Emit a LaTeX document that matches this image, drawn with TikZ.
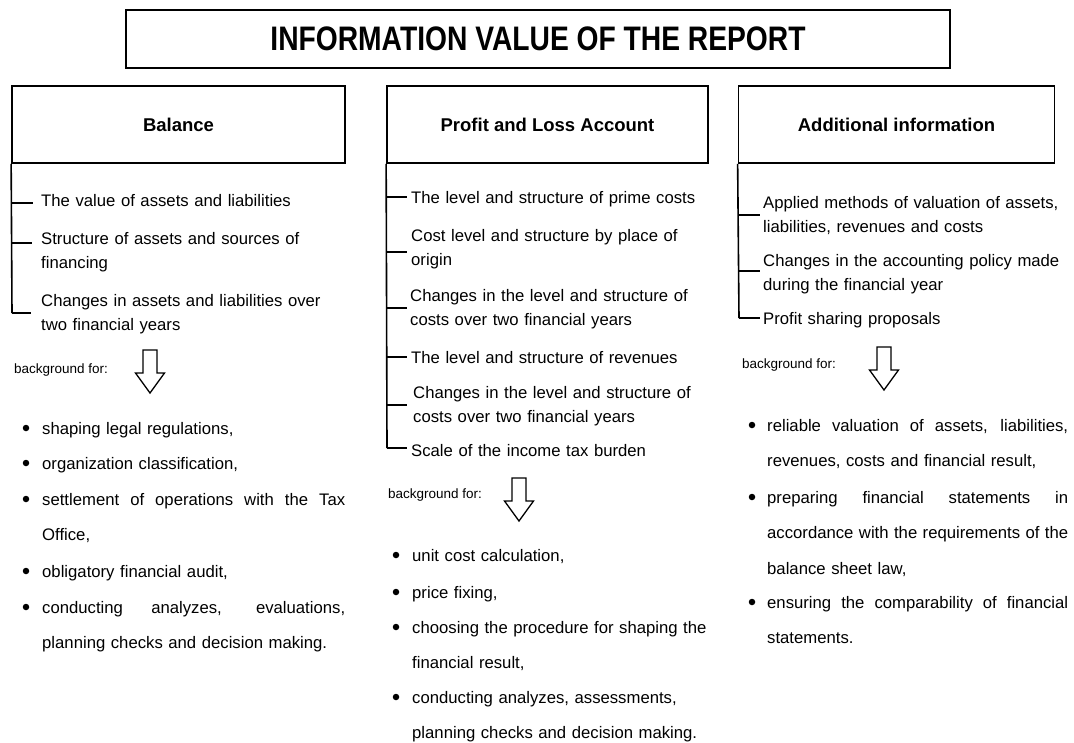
\documentclass[tikz,border=0pt]{standalone}
\usepackage{fontspec}
\setmainfont{Liberation Sans}
\newcommand{\jline}[2]{\leavevmode\hbox to #1{\spaceskip=0.28em plus 1fil minus 0.05em\relax #2}}
\begin{document}
\begin{tikzpicture}[x=1pt,y=-1pt,
  hbox/.style={draw, line width=1.7pt, inner sep=0pt, font=\fontsize{18.5}{22}\selectfont\bfseries},
  ln/.style={line width=1.6pt},
  itm/.style={anchor=base west, inner sep=0pt, text width=330pt, align=left, font=\fontsize{16.7}{24.5}\selectfont},
  bul/.style={anchor=base west, inner sep=0pt, align=left, font=\fontsize{16.7}{35.5}\selectfont},
  bg/.style={anchor=base west, inner sep=0pt, font=\fontsize{13.5}{16}\selectfont},
  dot/.style={circle, fill, inner sep=0pt, minimum size=6.5pt},
  harrow/.style={draw, line width=1.3pt, fill=white},
  downarrow/.pic={\draw[harrow] (-7,0) -- (-7,23) -- (-14.5,23) -- (0,43) -- (14.5,23) -- (7,23) -- (7,0) -- cycle;}
]
\useasboundingbox (0,0) rectangle (1074,742);

% title
\node[hbox, minimum width=824pt, minimum height=58pt] (title) at (538,39)
  {\fontsize{34}{40}\selectfont\bfseries\scalebox{0.83}[1]{INFORMATION VALUE OF THE REPORT}};

% headers
\node[hbox, minimum width=333pt, minimum height=77pt] (bal) at (178.5,124.5) {Balance};
\node[hbox, minimum width=321pt, minimum height=77pt] (pl) at (547.5,124.5) {Profit and Loss Account};
\node[hbox, minimum width=316pt, minimum height=77pt] (add) at (896.5,124.5) {Additional information};

% ---------- Balance column ----------
\node[itm] (b1) at (41,206) {The value of assets and liabilities};
\node[itm] (b2) at (41,244) {Structure of assets and sources of\\financing};
\node[itm] (b3) at (41,306) {Changes in assets and liabilities over\\two financial years};
\coordinate (bk1) at (12,203);
\coordinate (bk2) at (12,243);
\coordinate (bk3) at (12,313);
\draw[ln] (bal.south west) -- (bk3);
\draw[ln, shorten >=8pt] (bk1) -- (bk1 -| b1.west);
\draw[ln, shorten >=9pt] (bk2) -- (bk2 -| b2.west);
\draw[ln, shorten >=10pt] (bk3) -- (bk3 -| b3.west);

\node[bg] (bgL) at (14,373) {background for:};
\pic at (150,350) {downarrow};

\node[bul, text width=303pt] (lb1) at (42,434) {shaping legal regulations,};
\node[bul, text width=303pt] (lb2) at (42,469) {organization classification,};
\node[bul, text width=303pt] (lb3) at (42,505) {\jline{303pt}{settlement of operations with the Tax}\\Office,};
\node[bul, text width=303pt] (lb4) at (42,577) {obligatory financial audit,};
\node[bul, text width=303pt] (lb5) at (42,613) {\jline{303pt}{conducting analyzes, evaluations,}\\planning checks and decision making.};
\foreach \n/\y in {d1/428,d2/463,d3/499,d4/571,d5/607}
  \node[dot] (L\n) at (26,\y) {};

% ---------- Profit and Loss column ----------
\node[itm] (p1) at (411,203) {The level and structure of prime costs};
\node[itm] (p2) at (411,241) {Cost level and structure by place of\\origin};
\node[itm] (p3) at (410,301) {Changes in the level and structure of\\costs over two financial years};
\node[itm] (p4) at (411,363) {The level and structure of revenues};
\node[itm] (p5) at (413,398) {Changes in the level and structure of\\costs over two financial years};
\node[itm] (p6) at (411,456) {Scale of the income tax burden};
\coordinate (pk1) at (387,197);
\coordinate (pk2) at (387,252);
\coordinate (pk3) at (387,308);
\coordinate (pk4) at (387,357);
\coordinate (pk5) at (387,405);
\coordinate (pk6) at (387,448);
\draw[ln] (pl.south west) -- (pk6);
\draw[ln, shorten >=4pt] (pk1) -- (pk1 -| p1.west);
\draw[ln, shorten >=4pt] (pk2) -- (pk2 -| p2.west);
\draw[ln, shorten >=3pt] (pk3) -- (pk3 -| p3.west);
\draw[ln, shorten >=4pt] (pk4) -- (pk4 -| p4.west);
\draw[ln, shorten >=6pt] (pk5) -- (pk5 -| p5.west);
\draw[ln, shorten >=4pt] (pk6) -- (pk6 -| p6.west);

\node[bg] (bgM) at (388,498) {background for:};
\pic at (519,478) {downarrow};

\node[bul, text width=300pt, font=\fontsize{16.7}{35}\selectfont] (mb1) at (412,561) {unit cost calculation,};
\node[bul, text width=300pt, font=\fontsize{16.7}{35}\selectfont] (mb2) at (412,598) {price fixing,};
\node[bul, text width=300pt, font=\fontsize{16.7}{35}\selectfont] (mb3) at (412,633) {choosing the procedure for shaping the\\financial result,};
\node[bul, text width=300pt, font=\fontsize{16.7}{35}\selectfont] (mb4) at (412,703) {conducting analyzes, assessments,\\planning checks and decision making.};
\foreach \n/\y in {d1/555,d2/592,d3/627,d4/697}
  \node[dot] (M\n) at (396,\y) {};

% ---------- Additional information column ----------
\node[itm] (a1) at (763,208) {Applied methods of valuation of assets,\\liabilities, revenues and costs};
\node[itm] (a2) at (763,266) {Changes in the accounting policy made\\during the financial year};
\node[itm] (a3) at (763,324) {Profit sharing proposals};
\coordinate (ak1) at (739,215);
\coordinate (ak2) at (739,271);
\coordinate (ak3) at (739,318);
\draw[ln] (add.south west) -- (ak3);
\draw[ln, shorten >=3pt] (ak1) -- (ak1 -| a1.west);
\draw[ln, shorten >=3pt] (ak2) -- (ak2 -| a2.west);
\draw[ln, shorten >=3pt] (ak3) -- (ak3 -| a3.west);

\node[bg] (bgR) at (742,368) {background for:};
\pic at (884,347) {downarrow};

\node[bul, text width=301pt] (rb1) at (767,431) {\jline{301pt}{reliable valuation of assets, liabilities,}\\revenues, costs and financial result,};
\node[bul, text width=301pt] (rb2) at (767,503) {\jline{301pt}{preparing financial statements in}\\\jline{301pt}{accordance with the requirements of the}\\balance sheet law,};
\node[bul, text width=301pt] (rb3) at (767,608) {\jline{301pt}{ensuring the comparability of financial}\\statements.};
\foreach \n/\y in {d1/425,d2/497,d3/602}
  \node[dot] (R\n) at (752,\y) {};
\end{tikzpicture}
\end{document}
